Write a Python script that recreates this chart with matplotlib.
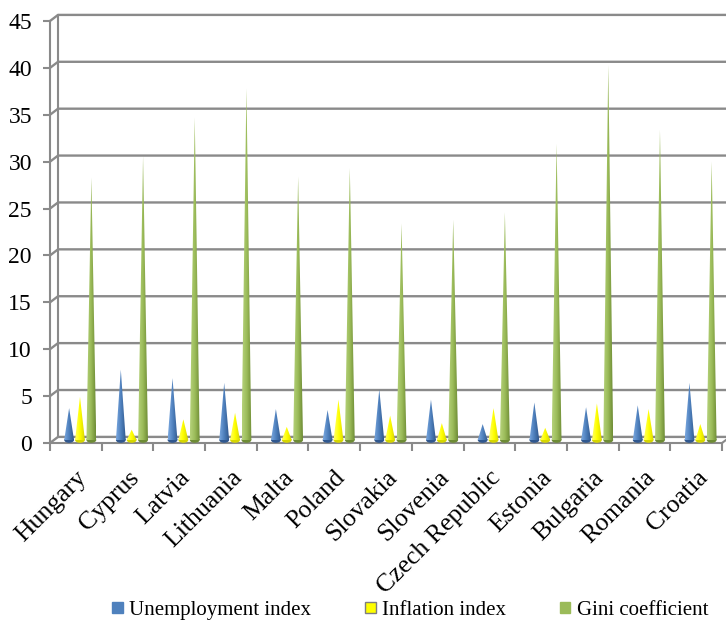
import matplotlib
matplotlib.use("Agg")
import matplotlib.pyplot as plt
import numpy as np
from matplotlib.patches import Polygon, Ellipse, Patch
from matplotlib.colors import LinearSegmentedColormap

countries = ["Hungary", "Cyprus", "Latvia", "Lithuania", "Malta", "Poland",
             "Slovakia", "Slovenia", "Czech Republic", "Estonia", "Bulgaria",
             "Romania", "Croatia"]
unemployment = [3.4, 7.5, 6.6, 6.1, 3.3, 3.2, 5.4, 4.3, 1.7, 4.0, 3.5, 3.7, 6.1]
inflation = [4.6, 1.1, 2.2, 2.9, 1.4, 4.3, 2.6, 1.8, 3.4, 1.3, 3.9, 3.3, 1.7]
gini = [28.0, 30.3, 34.4, 37.5, 28.1, 29.0, 23.1, 23.5, 24.3, 31.6, 40.0, 33.1, 29.7]

series = [
    ("Unemployment index", unemployment, ["#7aa7e0", "#4f81bd", "#30588f"], "#4f81bd"),
    ("Inflation index", inflation, ["#ffff66", "#ffff00", "#d6d600"], "#ffff00"),
    ("Gini coefficient", gini, ["#b5d27a", "#9bbb59", "#6e8c35"], "#9bbb59"),
]

plt.rcParams["font.family"] = ["Liberation Serif", "DejaVu Serif"]

fig = plt.figure(figsize=(7.26, 6.2), dpi=100)
ax = fig.add_axes([50 / 726, 177 / 620, 672 / 726, 422 / 620])
n = len(countries)
ax.set_xlim(0, n)
ax.set_ylim(0, 45)

# depth of the fake 3-D box, in data units
dx, dy = 0.155, 0.65
grid_col = "#8a8a8a"

for v in range(0, 50, 5):
    ax.plot([0, dx, n + dx], [v, v + dy, v + dy], color=grid_col, lw=1.7,
            clip_on=False, zorder=1, solid_capstyle="butt")
ax.plot([dx, dx], [dy, 45 + dy], color=grid_col, lw=1.5, clip_on=False, zorder=1)
ax.plot([n, n + dx], [0, dy], color=grid_col, lw=1.5, clip_on=False, zorder=1)

for s in ["top", "right"]:
    ax.spines[s].set_visible(False)
for s in ["left", "bottom"]:
    ax.spines[s].set_color(grid_col)
    ax.spines[s].set_linewidth(1.5)

ax.set_yticks(range(0, 50, 5))
ax.tick_params(axis="y", length=5, width=1.5, color=grid_col, pad=8,
               labelsize=17)
ax.set_xticks(range(0, n + 1))
ax.set_xticklabels([])
ax.tick_params(axis="x", which="major", length=6, width=1.5, color=grid_col)
ax.set_xticks(np.arange(n) + 0.5, minor=True)
ax.set_xticklabels(countries, minor=True, rotation=45, ha="right",
                   rotation_mode="anchor", fontsize=18.5)
ax.tick_params(axis="x", which="minor", length=0, pad=17)

# cones, shaded left to right
offsets = [0.37, 0.58, 0.80]
half_w = 0.095
base = 0.32
grad = np.linspace(0, 1, 64).reshape(1, -1)
for k, (name, vals, shades, col) in enumerate(series):
    cmap = LinearSegmentedColormap.from_list(name, shades)
    for i, v in enumerate(vals):
        c = i + offsets[k]
        ell = Ellipse((c, base), 2 * half_w, 0.6, facecolor=shades[2],
                      edgecolor="none", zorder=3)
        ax.add_patch(ell)
        tri = Polygon([(c - half_w, base), (c + half_w, base), (c, base + v)],
                      closed=True, facecolor="none", edgecolor="none")
        ax.add_patch(tri)
        im = ax.imshow(grad, cmap=cmap, aspect="auto", zorder=4,
                       extent=[c - half_w, c + half_w, base, base + v],
                       interpolation="bilinear")
        im.set_clip_path(tri)
ax.set_xlim(0, n)
ax.set_ylim(0, 45)

handles = [Patch(facecolor=col, edgecolor=("#7f7f7f" if k == 1 else col))
           for k, (_, _, _, col) in enumerate(series)]
fig.legend(handles, [s[0] for s in series], loc="lower center",
           bbox_to_anchor=(0.565, -0.03), ncol=3, frameon=False,
           fontsize=15, handlelength=0.5, handleheight=0.5,
           handletextpad=0.3, columnspacing=2.6)

fig.savefig("out.png", dpi=100)
